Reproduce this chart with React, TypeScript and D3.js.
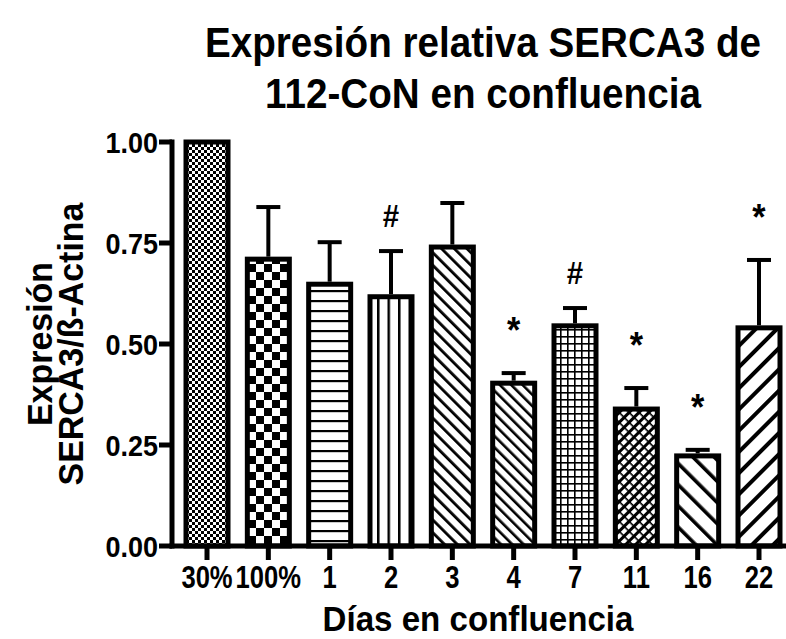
import React from "react";
import * as d3 from "d3";

// data
const categories = ["30%", "100%", "1", "2", "3", "4", "7", "11", "16", "22"];
const means = [1.0, 0.71, 0.648, 0.617, 0.74, 0.403, 0.545, 0.339, 0.223, 0.54];
const errors = [0, 0.129, 0.104, 0.113, 0.109, 0.025, 0.044, 0.052, 0.015, 0.168];
const marks = ["", "", "", "#", "", "*", "#", "*", "*", "*"];
const yTicks = [0, 0.25, 0.5, 0.75, 1.0];

const patternIds = ["pFine", "pCheck", "pHor", "pVer", "pDiag1", "pDiag2", "pGrid", "pWeave", "pDiag3", "pDiag4"];

const W = 786;
const H = 639;
const axisX = 172;
const baseY = 546;
const topY = 142;
const barW = 42;
const font = "'Liberation Sans', Arial, Helvetica, sans-serif";

// narrow (condensed-looking) text, like the Helvetica in the figure
const NText = ({ x, y, size, sx = 0.85, anchor = "middle", rotate = 0, children }: any) => (
  <text
    transform={`translate(${x},${y}) rotate(${rotate}) scale(${sx},1)`}
    textAnchor={anchor}
    fontSize={size}
  >
    {children}
  </text>
);

const App = () => {
  const x = d3.scalePoint<string>().domain(categories).range([207, 759]);
  const y = d3.scaleLinear().domain([0, 1]).range([baseY, topY]);

  return (
    <svg width={W} height={H} style={{ position: "absolute", left: 0, top: 0, background: "#fff" }}
      fontFamily={font} fontWeight="bold">
      <defs>
        {/* fine checker */}
        <pattern id="pFine" width={6} height={6} patternUnits="userSpaceOnUse">
          <rect width={6} height={6} fill="#fff" />
          <rect width={3} height={3} fill="#000" />
          <rect x={3} y={3} width={3} height={3} fill="#000" />
        </pattern>
        {/* big checker */}
        <pattern id="pCheck" width={16} height={16} patternUnits="userSpaceOnUse">
          <rect width={16} height={16} fill="#fff" />
          <rect width={8} height={8} fill="#000" />
          <rect x={8} y={8} width={8} height={8} fill="#000" />
        </pattern>
        <pattern id="pHor" width={10} height={10} patternUnits="userSpaceOnUse">
          <rect width={10} height={10} fill="#fff" />
          <rect y={0} width={10} height={2.2} fill="#000" />
        </pattern>
        <pattern id="pVer" width={10.5} height={10} patternUnits="userSpaceOnUse" x={-1}>
          <rect width={10.5} height={10} fill="#fff" />
          <rect width={2.5} height={10} fill="#000" />
        </pattern>
        <pattern id="pDiag1" width={9} height={9} patternUnits="userSpaceOnUse" patternTransform="rotate(-45)">
          <rect width={9} height={9} fill="#fff" />
          <rect width={2.8} height={9} fill="#000" />
        </pattern>
        <pattern id="pDiag2" width={8} height={8} patternUnits="userSpaceOnUse" patternTransform="rotate(-45)">
          <rect width={8} height={8} fill="#fff" />
          <rect width={2.6} height={8} fill="#000" />
        </pattern>
        <pattern id="pGrid" width={7} height={7} patternUnits="userSpaceOnUse">
          <rect width={7} height={7} fill="#fff" />
          <rect width={1.6} height={7} fill="#000" />
          <rect width={7} height={1.6} fill="#000" />
        </pattern>
        <pattern id="pWeave" width={7} height={7} patternUnits="userSpaceOnUse" patternTransform="rotate(45)">
          <rect width={7} height={7} fill="#fff" />
          <rect width={3} height={7} fill="#000" />
          <rect width={7} height={1.6} fill="#000" />
        </pattern>
        <pattern id="pDiag3" width={15} height={15} patternUnits="userSpaceOnUse" patternTransform="rotate(-45)">
          <rect width={15} height={15} fill="#fff" />
          <rect width={3.6} height={15} fill="#000" />
        </pattern>
        <pattern id="pDiag4" width={15} height={15} patternUnits="userSpaceOnUse" patternTransform="rotate(45)">
          <rect width={15} height={15} fill="#fff" />
          <rect width={4} height={15} fill="#000" />
        </pattern>
      </defs>

      {/* title */}
      <NText x={483} y={57} size={42} sx={0.92}>Expresión relativa SERCA3 de</NText>
      <NText x={483} y={108} size={42} sx={0.92}>112-CoN en confluencia</NText>

      {/* y axis label */}
      <NText x={52} y={(topY + baseY) / 2} size={35} sx={0.97} rotate={-90}>Expresión</NText>
      <NText x={83} y={(topY + baseY) / 2} size={35} sx={0.97} rotate={-90}>SERCA3/ß-Actina</NText>

      {/* bars */}
      {categories.map((c, i) => {
        const cx = x(c) as number;
        const top = y(means[i]);
        const errTop = y(means[i] + errors[i]);
        return (
          <g key={c}>
            <rect x={cx - barW / 2} y={top} width={barW} height={baseY - top}
              fill={`url(#${patternIds[i]})`} stroke="#000" strokeWidth={5} />
            {errors[i] > 0 && (
              <g stroke="#000" strokeWidth={4}>
                <line x1={cx} x2={cx} y1={top - 2.5} y2={errTop} />
                <line x1={cx - 12} x2={cx + 12} y1={errTop} y2={errTop} />
              </g>
            )}
            {marks[i] && (
              <NText x={cx} y={errTop - (marks[i] === "*" ? 30 : 24)} size={marks[i] === "*" ? 36 : 31} sx={0.95}>
                {marks[i]}
              </NText>
            )}
          </g>
        );
      })}

      {/* y axis */}
      <line x1={axisX} x2={axisX} y1={topY - 2.5} y2={baseY + 2.5} stroke="#000" strokeWidth={5} />
      {yTicks.map((t) => (
        <g key={t}>
          <line x1={axisX - 13} x2={axisX} y1={y(t)} y2={y(t)} stroke="#000" strokeWidth={5} />
          <NText x={axisX - 14} y={y(t) + 10.5} size={30} sx={0.9} anchor="end">{d3.format(".2f")(t)}</NText>
        </g>
      ))}

      {/* x axis */}
      <line x1={axisX - 2.5} x2={W} y1={baseY} y2={baseY} stroke="#000" strokeWidth={5} />
      {categories.map((c) => (
        <g key={c}>
          <line x1={x(c)} x2={x(c)} y1={baseY} y2={baseY + 14} stroke="#000" strokeWidth={5} />
          <NText x={x(c)} y={588} size={32} sx={0.8}>{c}</NText>
        </g>
      ))}
      <NText x={478} y={631} size={36} sx={0.92}>Días en confluencia</NText>
    </svg>
  );
};

export default App;
